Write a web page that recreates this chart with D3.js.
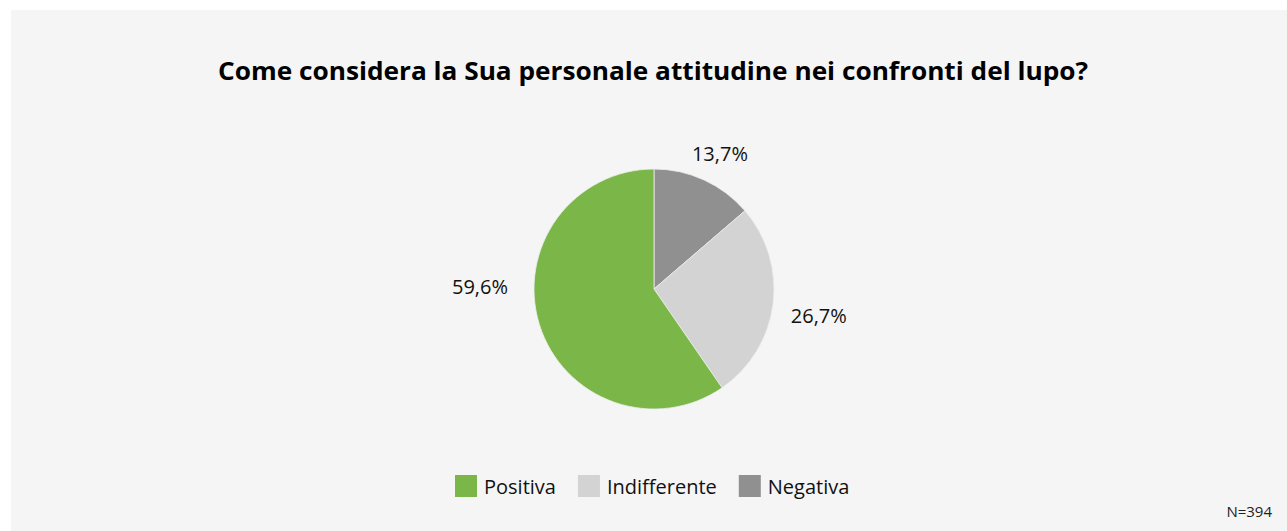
<!DOCTYPE html>
<html>
<head>
<meta charset="utf-8">
<script src="https://cdn.jsdelivr.net/npm/d3@7"></script>
<style>
  html, body { margin: 0; padding: 0; background: #ffffff; }
  svg { display: block; font-family: "Open Sans", sans-serif; }
</style>
</head>
<body>
<div id="chart"></div>
<script>
// Data
const categories = ["Negativa", "Indifferente", "Positiva"];
const values = [13.7, 26.7, 59.6];
const colors = ["#909090", "#d3d3d3", "#7ab648"];
const legendOrder = ["Positiva", "Indifferente", "Negativa"];
const title = "Come considera la Sua personale attitudine nei confronti del lupo?";
const note = "N=394";

const W = 1287, H = 531;
const svg = d3.select("#chart").append("svg")
  .attr("width", W)
  .attr("height", H);

// panel background
svg.append("rect")
  .attr("x", 11).attr("y", 10)
  .attr("width", W - 11).attr("height", H - 10)
  .attr("fill", "#f5f5f5");

// Title
svg.append("text")
  .attr("x", 653)
  .attr("y", 80)
  .attr("text-anchor", "middle")
  .attr("textLength", 870)
  .attr("lengthAdjust", "spacingAndGlyphs")
  .style("font-size", "25px")
  .style("font-weight", "bold")
  .style("fill", "#000")
  .text(title);

const data = categories.map((c, i) => ({ category: c, value: values[i], color: colors[i] }));

const cx = 654, cy = 289, r = 120;
const g = svg.append("g").attr("transform", `translate(${cx},${cy})`);

const pie = d3.pie().sort(null).value(d => d.value);
const arc = d3.arc().innerRadius(0).outerRadius(r);
const arcs = pie(data);

g.selectAll("path.slice")
  .data(arcs)
  .join("path")
  .attr("class", "slice")
  .attr("d", arc)
  .attr("fill", d => d.data.color)
  .attr("stroke", "#eeeeee")
  .attr("stroke-width", 0.8);

// labels: outside end, large slices snap to horizontal (best fit)
const labelR = 146;
function labelAngle(d) {
  let a = (d.startAngle + d.endAngle) / 2;
  if (d.endAngle - d.startAngle > Math.PI) {
    const cands = [Math.PI / 2, 3 * Math.PI / 2].filter(h => h > d.startAngle && h < d.endAngle);
    if (cands.length) a = cands.reduce((p, h) => Math.abs(h - a) < Math.abs(p - a) ? h : p);
  }
  return a;
}
const fmt = v => d3.format(".1f")(v).replace(".", ",") + "%";

g.selectAll("text.lbl")
  .data(arcs)
  .join("text")
  .attr("class", "lbl")
  .each(function(d) {
    const a = labelAngle(d);
    const x = Math.sin(a) * labelR, y = -Math.cos(a) * labelR;
    const anchor = Math.abs(Math.sin(a)) < 0.5 ? "middle" : (x > 0 ? "start" : "end");
    const shift = anchor === "middle" ? 5 : (anchor === "start" ? -8 : 0);
    d3.select(this)
      .attr("x", x + shift)
      .attr("y", y + (anchor === "start" ? 8 : -2))
      .attr("dy", "0.35em")
      .attr("text-anchor", anchor);
  })
  .style("font-size", "20px")
  .style("fill", "#111")
  .text(d => fmt(d.data.value));

// Legend
const legend = svg.append("g").attr("transform", "translate(455,475)");
const lgData = legendOrder.map(c => data.find(d => d.category === c));
let lx = 0;
lgData.forEach(d => {
  const item = legend.append("g").attr("transform", `translate(${lx},0)`);
  item.append("rect")
    .attr("width", 22).attr("height", 22)
    .attr("fill", d.color);
  const t = item.append("text")
    .attr("x", 29).attr("y", 19)
    .style("font-size", "20px")
    .style("fill", "#111")
    .text(d.category);
  lx += 29 + t.node().getComputedTextLength() + 22;
});

// Sample size note
svg.append("text")
  .attr("x", 1272)
  .attr("y", 517)
  .attr("text-anchor", "end")
  .style("font-size", "15px")
  .style("fill", "#222")
  .text(note);
</script>
</body>
</html>
